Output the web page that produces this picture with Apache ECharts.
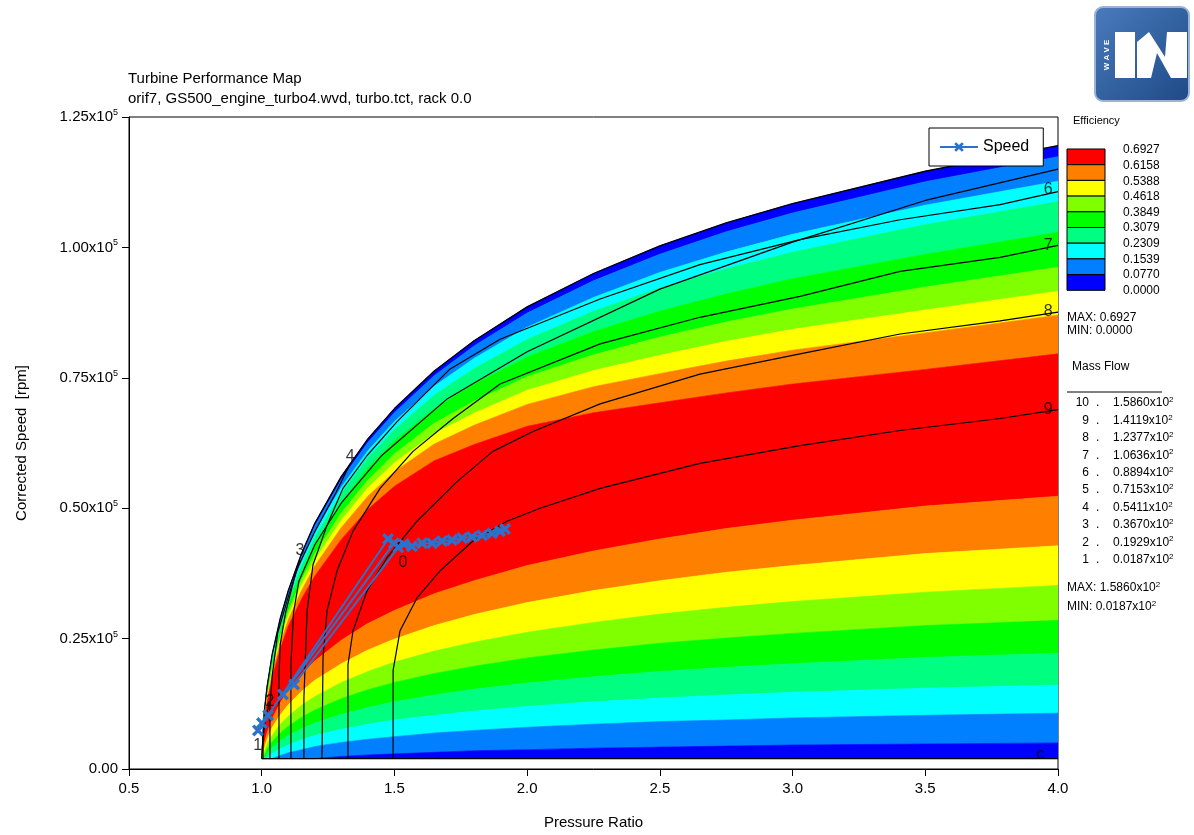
<!DOCTYPE html>
<html>
<head>
<meta charset="utf-8">
<title>Turbine Performance Map</title>
<script src="https://cdn.jsdelivr.net/npm/echarts@6/dist/echarts.min.js"></script>
<style>
html, body { margin: 0; padding: 0; background: #fff; }
#main { width: 1194px; height: 835px; }
</style>
</head>
<body>
<div id="main"></div>
<script>
var FONT = 'Liberation Sans';

// axis tick labels
var PR_TICKS = ['0.5', '1.0', '1.5', '2.0', '2.5', '3.0', '3.5', '4.0'];
var SPEED_TICKS = ['0.00', '0.25', '0.50', '0.75', '1.00', '1.25'];

// pressure ratio columns shared by every efficiency band edge
var PR_COLS = [1.0, 1.01, 1.02, 1.04, 1.07, 1.1, 1.15, 1.2, 1.3, 1.4, 1.5, 1.65, 1.8, 2.0, 2.25, 2.5, 2.75, 3.0, 3.5, 4.0];
// corrected speed of each band edge, x1000 rpm (UP = high speed side of the peak)
var UP_0000 = [0, 11.1, 15.7, 22.1, 28.9, 34.2, 41.3, 47.1, 56.1, 63.3, 69.1, 76.3, 82.1, 88.6, 95.0, 100.3, 104.7, 108.4, 114.6, 119.5];
var UP_0770 = [0, 11.0, 15.5, 21.9, 28.6, 33.8, 40.8, 46.6, 55.5, 62.6, 68.3, 75.4, 81.1, 87.4, 93.6, 98.7, 103.0, 106.6, 112.6, 117.4];
var UP_1539 = [0, 10.7, 15.2, 21.3, 27.9, 33.0, 39.8, 45.4, 54.0, 61.0, 66.6, 73.4, 78.7, 84.7, 90.4, 95.2, 99.1, 102.5, 108.1, 112.7];
var UP_2309 = [0, 10.5, 14.9, 20.9, 27.4, 32.4, 39.0, 44.4, 52.9, 59.7, 65.1, 71.7, 76.8, 82.4, 87.8, 92.2, 95.9, 99.1, 104.4, 108.8];
var UP_3079 = [0, 10.2, 14.4, 20.3, 26.5, 31.4, 37.7, 42.9, 51.1, 57.7, 62.9, 69.1, 73.8, 79.0, 83.9, 87.8, 91.1, 94.0, 98.7, 102.9];
var UP_3849 = [0, 9.8, 13.9, 19.5, 25.5, 30.2, 36.3, 41.2, 49.1, 55.4, 60.4, 66.3, 70.5, 75.2, 79.4, 82.8, 85.7, 88.2, 92.4, 96.2];
var UP_4618 = [0, 9.6, 13.5, 19.0, 24.9, 29.4, 35.3, 40.0, 47.7, 53.9, 58.7, 64.3, 68.2, 72.6, 76.4, 79.3, 82.0, 84.3, 88.0, 91.6];
var UP_5388 = [0, 9.3, 13.1, 18.5, 24.2, 28.6, 34.2, 38.9, 46.3, 52.3, 57.0, 62.3, 65.9, 69.9, 73.3, 75.8, 78.2, 80.3, 83.6, 87.0];
var UP_6158 = [0, 8.9, 12.6, 17.7, 23.1, 27.4, 32.6, 37.0, 44.0, 49.8, 54.2, 59.1, 62.2, 65.7, 68.3, 70.2, 72.1, 73.8, 76.6, 79.6];
var LO_6158 = [0, 4.9, 6.9, 9.7, 12.7, 15.1, 18.2, 20.7, 24.7, 27.9, 30.4, 33.6, 36.1, 39.0, 41.8, 44.1, 46.1, 47.7, 50.4, 52.3];
var LO_5388 = [0, 4.0, 5.7, 8.0, 10.4, 12.3, 14.9, 17.0, 20.2, 22.8, 24.9, 27.5, 29.6, 31.9, 34.2, 36.1, 37.7, 39.0, 41.3, 42.8];
var LO_4618 = [0, 3.3, 4.7, 6.5, 8.6, 10.1, 12.2, 13.9, 16.6, 18.7, 20.5, 22.6, 24.3, 26.2, 28.1, 29.7, 31.0, 32.1, 33.9, 35.2];
var LO_3849 = [0, 2.7, 3.8, 5.3, 6.9, 8.2, 9.9, 11.3, 13.5, 15.2, 16.6, 18.3, 19.7, 21.3, 22.8, 24.1, 25.1, 26.0, 27.5, 28.5];
var LO_3079 = [0, 2.1, 2.9, 4.1, 5.4, 6.4, 7.7, 8.8, 10.5, 11.8, 12.9, 14.2, 15.3, 16.5, 17.7, 18.7, 19.5, 20.2, 21.4, 22.2];
var LO_2309 = [0, 1.5, 2.1, 3.0, 3.9, 4.6, 5.6, 6.4, 7.6, 8.6, 9.4, 10.3, 11.1, 12.0, 12.9, 13.6, 14.2, 14.7, 15.5, 16.1];
var LO_1539 = [0, 1.0, 1.4, 2.0, 2.6, 3.1, 3.7, 4.3, 5.1, 5.7, 6.2, 6.9, 7.4, 8.0, 8.6, 9.1, 9.4, 9.8, 10.3, 10.7];
var LO_0770 = [0, 0.5, 0.7, 0.9, 1.2, 1.4, 1.7, 2.0, 2.4, 2.7, 2.9, 3.2, 3.5, 3.7, 4.0, 4.2, 4.4, 4.6, 4.8, 5.0];
var FIELD_FLOOR = 2.0; // map data stops here

// efficiency legend
var EFF_COLORS = ['#ff0000', '#ff8000', '#ffff00', '#80ff00', '#00ff00', '#00ff80', '#00ffff', '#0080ff', '#0000ff'];
var EFF_LABELS = ['0.6927', '0.6158', '0.5388', '0.4618', '0.3849', '0.3079', '0.2309', '0.1539', '0.0770', '0.0000'];

// mass flow contour lines [pressure ratio, speed x1000 rpm]
var MF_LINE_2 = [[1.005, 2], [1.005, 6], [1.015, 10], [1.031, 13]];
var MF_LINE_3 = [[1.031, 2], [1.031, 12], [1.04, 18], [1.06, 26], [1.1, 33], [1.144, 40]];
var MF_LINE_4 = [[1.065, 2], [1.065, 18], [1.07, 24], [1.09, 30], [1.13, 38], [1.2, 45.5], [1.28, 53], [1.333, 58.5]];
var MF_LINE_5 = [[1.11, 2], [1.11, 20], [1.12, 30], [1.14, 36], [1.2, 43], [1.3, 51], [1.45, 60], [1.7, 71], [2.0, 80], [2.5, 92], [3.0, 101], [3.5, 109], [4.0, 115]];
var MF_LINE_6 = [[1.159, 2], [1.159, 13.7], [1.171, 30.3], [1.193, 39.1], [1.246, 46.7], [1.306, 53.8], [1.397, 60.1], [1.51, 66.6], [1.71, 76.7], [1.898, 82.4], [2.275, 90.1], [2.651, 96.7], [3.028, 101.5], [3.405, 105.3], [3.782, 108.2], [4.0, 110.7]];
var MF_LINE_7 = [[1.227, 2], [1.231, 21.4], [1.246, 30.3], [1.284, 38.0], [1.344, 45.6], [1.446, 53.8], [1.57, 60.9], [1.721, 67.2], [1.898, 73.8], [2.275, 81.5], [2.651, 86.6], [3.028, 90.6], [3.405, 95.4], [3.782, 98.1], [4.0, 100.4]];
var MF_LINE_8 = [[1.325, 2], [1.325, 20.0], [1.344, 26.5], [1.397, 34.2], [1.472, 40.5], [1.585, 47.5], [1.736, 55.1], [1.871, 60.9], [2.022, 64.7], [2.275, 70.0], [2.651, 75.7], [3.028, 79.6], [3.405, 83.4], [3.782, 85.9], [4.0, 87.6]];
var MF_LINE_9 = [[1.495, 2], [1.495, 18.9], [1.521, 26.5], [1.585, 32.8], [1.672, 38.0], [1.796, 43.7], [1.924, 47.5], [2.049, 50.0], [2.275, 53.8], [2.651, 58.6], [3.028, 62.0], [3.405, 64.9], [3.782, 67.2], [4.0, 68.9]];
// contour labels [pressure ratio, speed x1000 rpm, text]
var MF_TAGS = [[0.985, 4.5, '1'], [1.031, 13.0, '2'], [1.144, 41.8, '3'], [1.333, 59.9, '4'], [1.532, 39.5, '0'],
  [3.963, 111.0, '6'], [3.963, 100.4, '7'], [3.963, 87.6, '8'], [3.963, 68.9, '9'], [3.933, 2.7, 'c']];

// mass flow legend
var MF_LEVELS = ['10', '9', '8', '7', '6', '5', '4', '3', '2', '1'];
var MF_VALUES = ['1.5860', '1.4119', '1.2377', '1.0636', '0.8894', '0.7153', '0.5411', '0.3670', '0.1929', '0.0187'];

// operating speed line [pressure ratio, speed x1000 rpm]
var SPEED_PR = [0.986, 1.001, 1.024, 1.476, 1.498, 1.080, 1.122, 1.514, 1.536, 1.566, 1.604, 1.642, 1.679, 1.717, 1.755, 1.792, 1.830, 1.868, 1.898, 1.917];
var SPEED_N = [7.4, 8.8, 10.3, 44.1, 43.3, 14.3, 16.2, 42.5, 43.1, 42.7, 43.3, 43.3, 43.7, 43.9, 44.3, 44.5, 44.8, 45.2, 45.6, 46.0];

var chart = echarts.init(document.getElementById('main'));

// band edges from top to bottom, one colour per gap
var edges = [UP_0000, UP_0770, UP_1539, UP_2309, UP_3079, UP_3849, UP_4618, UP_5388, UP_6158,
  LO_6158, LO_5388, LO_4618, LO_3849, LO_3079, LO_2309, LO_1539, LO_0770,
  PR_COLS.map(function () { return FIELD_FLOOR; })];
var bandColors = EFF_COLORS.slice().reverse().concat(EFF_COLORS.slice(1));

function toPts(arr) {
  return arr.map(function (p) { return [p[0], p[1] * 1000]; });
}

var contourSeries = [MF_LINE_2, MF_LINE_3, MF_LINE_4, MF_LINE_5, MF_LINE_6, MF_LINE_7, MF_LINE_8, MF_LINE_9].map(function (l) {
  return {
    type: 'line', data: toPts(l), symbol: 'none', silent: true, z: 3,
    lineStyle: { color: '#000', width: 1.2 }, clip: true
  };
});

var xShape = 'path://M0,2 L2,0 L5,3 L8,0 L10,2 L7,5 L10,8 L8,10 L5,7 L2,10 L0,8 L3,5 Z';

var option = {
  animation: false,
  backgroundColor: '#fff',
  textStyle: { fontFamily: FONT },
  title: {
    text: 'Turbine Performance Map\norif7, GS500_engine_turbo4.wvd, turbo.tct, rack 0.0',
    left: 123, top: 64,
    textStyle: { fontSize: 15, fontWeight: 'normal', color: '#000', lineHeight: 20, fontFamily: FONT }
  },
  legend: {
    data: ['Speed'], left: 929, top: 128,
    backgroundColor: '#fff', borderColor: '#000', borderWidth: 1,
    padding: [11, 14, 11, 10], itemWidth: 38, itemHeight: 12,
    textStyle: { fontSize: 16, color: '#000', fontFamily: FONT }
  },
  grid: { left: 129, top: 117, width: 929, height: 655, show: true, borderColor: '#000', borderWidth: 1, backgroundColor: 'transparent' },
  xAxis: {
    type: 'value', min: 0.5, max: 4.0, interval: 0.5,
    name: 'Pressure Ratio', nameLocation: 'middle', nameGap: 46,
    nameTextStyle: { fontSize: 15, color: '#000', fontFamily: FONT },
    axisLine: { onZero: false, lineStyle: { color: '#000', width: 1 } },
    axisTick: { length: 7, lineStyle: { color: '#000' } },
    axisLabel: { fontSize: 15, color: '#000', margin: 12, fontFamily: FONT,
      formatter: function (v, i) { return PR_TICKS[i]; } },
    splitLine: { show: false }
  },
  yAxis: {
    type: 'value', min: 0, max: 125000, interval: 25000,
    name: 'Corrected Speed  [rpm]', nameLocation: 'middle', nameGap: 100, nameRotate: 90,
    nameTextStyle: { fontSize: 15, color: '#000', fontFamily: FONT },
    axisLine: { onZero: false, lineStyle: { color: '#000', width: 1 } },
    axisTick: { length: 7, lineStyle: { color: '#000' } },
    axisLabel: {
      margin: 11, color: '#000',
      formatter: function (v, i) {
        return i === 0 ? '{b|' + SPEED_TICKS[i] + '}' : '{b|' + SPEED_TICKS[i] + 'x10}{s|5}';
      },
      rich: {
        b: { fontSize: 15, color: '#000', fontFamily: FONT, lineHeight: 18 },
        s: { fontSize: 9, color: '#000', fontFamily: FONT, verticalAlign: 'top', lineHeight: 10 }
      }
    },
    splitLine: { show: false }
  },
  series: [
    {
      type: 'custom', name: 'Efficiency', silent: true, clip: true, z: 1,
      data: bandColors.map(function (c, i) { return [1, i]; }),
      renderItem: function (params, api) {
        var i = params.dataIndex, pts = [], j;
        for (j = 0; j < PR_COLS.length; j++) {
          pts.push(api.coord([PR_COLS[j], Math.max(FIELD_FLOOR, edges[i][j]) * 1000]));
        }
        for (j = PR_COLS.length - 1; j >= 0; j--) {
          pts.push(api.coord([PR_COLS[j], Math.max(FIELD_FLOOR, edges[i + 1][j]) * 1000]));
        }
        return { type: 'polygon', shape: { points: pts }, style: { fill: bandColors[i], stroke: bandColors[i], lineWidth: 0.6 } };
      }
    },
    // map outline
    {
      type: 'line', silent: true, symbol: 'none', z: 3,
      data: PR_COLS.map(function (p, j) { return [p, Math.max(FIELD_FLOOR, UP_0000[j]) * 1000]; }),
      lineStyle: { color: '#000', width: 1.3 }
    },
    {
      type: 'line', silent: true, symbol: 'none', z: 3,
      data: [[PR_COLS[0], FIELD_FLOOR * 1000], [PR_COLS[PR_COLS.length - 1], FIELD_FLOOR * 1000]],
      lineStyle: { color: '#000', width: 1.3 }
    }
  ].concat(contourSeries).concat([
    {
      type: 'scatter', silent: true, z: 6, symbolSize: 1, itemStyle: { color: 'rgba(0,0,0,0)' },
      data: MF_TAGS.map(function (t) { return { value: [t[0], t[1] * 1000], name: t[2] }; }),
      label: { show: true, position: 'inside', formatter: '{b}', fontSize: 16, color: '#000', fontFamily: FONT }
    },
    {
      name: 'Speed', type: 'line', z: 5,
      data: SPEED_PR.map(function (p, i) { return [p, SPEED_N[i] * 1000]; }),
      symbol: xShape, symbolSize: 12, showAllSymbol: true,
      itemStyle: { color: '#2a72cc' },
      lineStyle: { color: '#2a72cc', width: 2 }
    }
  ]),
  graphic: []
};

// efficiency colour bar
var g = option.graphic;
g.push({ type: 'text', left: 1073, top: 115, style: { text: 'Efficiency', fontSize: 11, fill: '#000', fontFamily: FONT } });
EFF_COLORS.forEach(function (c, i) {
  g.push({ type: 'rect', shape: { x: 1067, y: 149 + i * 15.7, width: 38, height: 15.7 }, style: { fill: c, stroke: '#000', lineWidth: 1 } });
});
EFF_LABELS.forEach(function (t, i) {
  g.push({ type: 'text', x: 1123, y: 150 + i * 15.6, style: { text: t, fontSize: 12, fill: '#000', fontFamily: FONT, textVerticalAlign: 'middle' } });
});
g.push({ type: 'text', x: 1067, y: 318, style: { text: 'MAX: ' + EFF_LABELS[0], fontSize: 12, fill: '#000', fontFamily: FONT, textVerticalAlign: 'middle' } });
g.push({ type: 'text', x: 1067, y: 331, style: { text: 'MIN: ' + EFF_LABELS[EFF_LABELS.length - 1], fontSize: 12, fill: '#000', fontFamily: FONT, textVerticalAlign: 'middle' } });

// mass flow level legend
var supRich = {
  b: { fontSize: 12, fill: '#000', fontFamily: FONT, lineHeight: 14 },
  s: { fontSize: 8, fill: '#000', fontFamily: FONT, verticalAlign: 'top', lineHeight: 8 }
};
g.push({ type: 'text', x: 1072, y: 367, style: { text: 'Mass Flow', fontSize: 12, fill: '#000', fontFamily: FONT, textVerticalAlign: 'middle' } });
g.push({ type: 'line', shape: { x1: 1067, y1: 392, x2: 1162, y2: 392 }, style: { stroke: '#000', lineWidth: 1 } });
MF_LEVELS.forEach(function (lv, i) {
  var y = 403 + i * 17.4;
  g.push({ type: 'text', x: 1089, y: y, style: { text: lv, fontSize: 12, fill: '#000', fontFamily: FONT, textAlign: 'right', textVerticalAlign: 'middle' } });
  g.push({ type: 'text', x: 1096, y: y, style: { text: '.', fontSize: 12, fill: '#000', fontFamily: FONT, textVerticalAlign: 'middle' } });
  g.push({ type: 'text', x: 1113, y: y, style: { text: '{b|' + MF_VALUES[i] + 'x10}{s|2}', rich: supRich, textVerticalAlign: 'middle' } });
});
g.push({ type: 'text', x: 1067, y: 588, style: { text: '{b|MAX: ' + MF_VALUES[0] + 'x10}{s|2}', rich: supRich, textVerticalAlign: 'middle' } });
g.push({ type: 'text', x: 1067, y: 607, style: { text: '{b|MIN: ' + MF_VALUES[MF_VALUES.length - 1] + 'x10}{s|2}', rich: supRich, textVerticalAlign: 'middle' } });

// WAVE logo
g.push({
  type: 'group', x: 1095, y: 7, children: [
    { type: 'rect', shape: { x: 0, y: 0, width: 94, height: 94, r: 8 },
      style: { fill: new echarts.graphic.LinearGradient(0, 0, 1, 1, [{ offset: 0, color: '#4a7bbd' }, { offset: 1, color: '#1e4a86' }]), stroke: '#9db3d3', lineWidth: 2 } },
    { type: 'rect', shape: { x: 20, y: 25, width: 20, height: 46 }, style: { fill: '#fff' } },
    { type: 'polygon', shape: { points: [[42, 71], [42, 35], [54, 25], [70, 50], [72, 25], [92, 25], [92, 71], [76, 71], [62, 46], [56, 71]] }, style: { fill: '#fff' } },
    { type: 'text', x: 12, y: 48, rotation: Math.PI / 2, style: { text: 'W A V E', fontSize: 8, fontWeight: 'bold', fill: '#fff', fontFamily: FONT, textAlign: 'center', textVerticalAlign: 'middle' } }
  ]
});

chart.setOption(option);
</script>
</body>
</html>
